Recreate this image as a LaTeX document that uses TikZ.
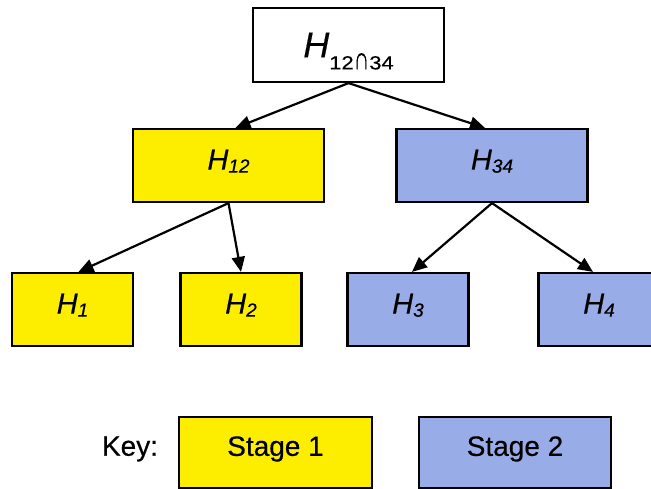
\documentclass[tikz,border=0pt]{standalone}
\usepackage{fontspec}
\setmainfont{Liberation Sans}[FakeBold=0.4]
\usetikzlibrary{arrows.meta}

\definecolor{stageone}{RGB}{253,238,0}
\definecolor{stagetwo}{RGB}{152,172,232}

% italic H with a lowered subscript (subscript depth ignored for centring)
\newcommand{\hsub}[1]{{\fontsize{29}{29}\selectfont\textit{H}}\smash{\raisebox{-3pt}{\fontsize{19}{19}\selectfont\textit{#1}}}}
% intersection sign stretched to digit height
\newcommand{\capsign}{\scalebox{1.0}[1.7]{∩}}

\tikzset{
  box/.style={draw=black, line width=2.2pt, inner sep=0pt, minimum height=73pt},
  wide/.style={box, minimum width=191pt},
  narrow/.style={box, minimum width=121pt},
  yel/.style={fill=stageone},
  blu/.style={fill=stagetwo},
  hyp/.style={text height=20.8pt, text depth=12.5pt},
  arr/.style={line width=2.2pt, -{Triangle[length=15pt,width=13pt]}},
  keytext/.style={font=\fontsize{28}{28}\selectfont}
}

\begin{document}
\begin{tikzpicture}[x=1pt, y=-1pt]
\useasboundingbox (0,0) rectangle (651,489);
\clip (0,0) rectangle (651,489);

% tree
\node[wide, fill=white, minimum height=74pt] (top) at (348.5,45)
  {{\fontsize{36}{36}\selectfont\textit{H}}\smash{\raisebox{-12pt}{\scalebox{1.15}[1]{\fontsize{19}{19}\selectfont 12\capsign 34}}}};
\node[wide, yel, hyp] (h12) at (228.5,165.5) {\hsub{12}};
\node[wide, blu, hyp] (h34) at (492,165.5) {\hsub{34}};
\node[narrow, yel, hyp] (h1) at (72.5,309.5) {\hsub{1}};
\node[narrow, yel, hyp] (h2) at (241,309.5) {\hsub{2}};
\node[narrow, blu, hyp] (h3) at (408,309.5) {\hsub{3}};
\node[narrow, blu, hyp] (h4) at (599,309.5) {\hsub{4}};

\draw[arr] (top.south) -- ([xshift=7pt]h12.north);
\draw[arr] (top.south) -- ([xshift=-7pt]h34.north);
\draw[arr] (h12.south) -- ([xshift=6pt]h1.north);
\draw[arr] (h12.south) -- (h2.north);
\draw[arr] (h34.south) -- ([xshift=4pt]h3.north);
\draw[arr] (h34.south) -- ([xshift=-6pt]h4.north);

% key
\node[keytext] (key) at (130,449) {Key:};
\node[box, yel, minimum width=193pt, minimum height=71pt] (s1) at (275.5,452.5) {};
\node[box, blu, minimum width=192pt, minimum height=71pt] (s2) at (515,452.5) {};
\node[keytext] (s1t) at (275.5,449) {Stage 1};
\node[keytext] (s2t) at (515,449) {Stage 2};
\end{tikzpicture}
\end{document}
